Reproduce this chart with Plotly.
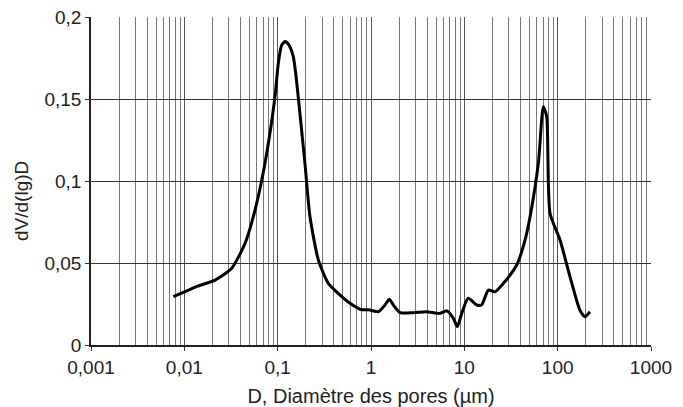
import plotly.graph_objects as go

diam = [0.00762, 0.0102, 0.0141, 0.0213, 0.0322, 0.0447, 0.0572, 0.0731, 0.0936, 0.1016,
        0.1105, 0.120, 0.1323, 0.147, 0.156, 0.166, 0.196, 0.222, 0.273, 0.349,
        0.486, 0.596, 0.763, 0.975, 1.197, 1.413, 1.571, 1.734, 2.05, 2.84,
        3.95, 5.49, 6.47, 7.62, 8.41, 9.38, 11.0, 13.6, 15.3, 18.1,
        21.3, 26.2, 36.4, 44.7, 50.6, 62.1, 70.2, 76.3, 82.8, 106,
        135.5, 173, 196, 222]
dv = [0.0295, 0.0325, 0.0360, 0.0396, 0.0468, 0.0620, 0.0823, 0.1108, 0.1514, 0.1718,
      0.1829, 0.1850, 0.1829, 0.1758, 0.1657, 0.1514, 0.1108, 0.0782, 0.0518, 0.0376,
      0.0295, 0.0254, 0.0218, 0.0213, 0.0203, 0.0244, 0.0279, 0.0244, 0.0197, 0.0197,
      0.0203, 0.0193, 0.0209, 0.0163, 0.0112, 0.0193, 0.0285, 0.0244, 0.0244, 0.0335,
      0.0325, 0.0376, 0.0488, 0.0640, 0.0782, 0.1108, 0.1453, 0.1392, 0.0803, 0.0640,
      0.0417, 0.0213, 0.0173, 0.0203]

x_tickvals = [0.001, 0.01, 0.1, 1, 10, 100, 1000]
x_ticktext = ["0,001", "0,01", "0,1", "1", "10", "100", "1000"]
y_tickvals = [0, 0.05, 0.1, 0.15, 0.2]
y_ticktext = ["0", "0,05", "0,1", "0,15", "0,2"]

fig = go.Figure()
fig.add_trace(go.Scatter(x=diam, y=dv, mode="lines",
                         line=dict(color="black", width=3, shape="spline", smoothing=0.6),
                         showlegend=False, hoverinfo="skip"))

font = dict(family="Liberation Sans, Arial, sans-serif", size=19, color="#222")

fig.update_layout(
    width=675, height=399,
    margin=dict(l=83, r=32, t=9, b=62),
    paper_bgcolor="white", plot_bgcolor="white",
    font=font,
    xaxis=dict(
        type="log", range=[-3, 3],
        tickmode="array", tickvals=x_tickvals, ticktext=x_ticktext,
        showgrid=True, gridcolor="#555", gridwidth=1,
        minor=dict(dtick="D1", showgrid=True, gridcolor="#777", gridwidth=1, ticks=""),
        ticks="outside", ticklen=4, tickcolor="#333",
        showline=True, linecolor="#222", linewidth=1.5,
        zeroline=False, automargin=False, ticklabeloverflow="allow",
        title=dict(text="D, Diamètre des pores (µm)", standoff=28, font=dict(size=20)),
    ),
    yaxis=dict(
        range=[0, 0.2],
        tickmode="array", tickvals=y_tickvals, ticktext=y_ticktext,
        showgrid=True, gridcolor="#333", gridwidth=1,
        ticks="outside", ticklen=4, tickcolor="#333",
        showline=True, linecolor="#222", linewidth=1.5,
        zeroline=False, automargin=False, ticklabeloverflow="allow",
    ),
    annotations=[dict(text="dV/d(lg)D", textangle=-90, xref="paper", yref="paper",
                      x=-0.125, y=0.439, xanchor="center", yanchor="middle",
                      showarrow=False, font=font)],
)

fig.write_html("out.html")
